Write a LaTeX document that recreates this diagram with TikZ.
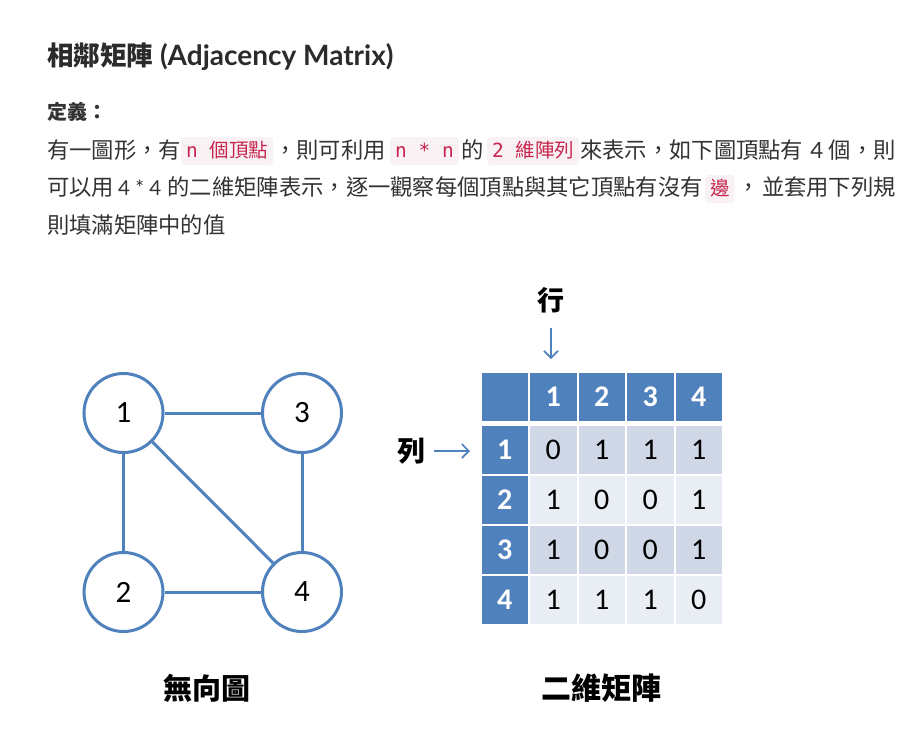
\documentclass[tikz,border=0pt]{standalone}
\usepackage{fontspec}
\setmainfont{Lato}
\newfontfamily\cjk{Noto Sans CJK TC}
\newfontfamily\calib{Carlito}
\newfontfamily\mono{DejaVu Sans Mono}
\usetikzlibrary{arrows.meta}

\definecolor{ink}{HTML}{333333}
\definecolor{heading}{HTML}{2B2B2B}
\definecolor{chipbg}{HTML}{F9F2F4}
\definecolor{chipfg}{HTML}{C7254E}
\definecolor{office}{HTML}{4F81BD}
\definecolor{rowA}{HTML}{D0D8E8}
\definecolor{rowB}{HTML}{E9EDF4}

\tikzset{
  txt/.style={inner sep=0pt, anchor=base west, text=ink,
    font=\cjk\fontsize{22.3}{27}\selectfont},
  txtr/.style={txt, anchor=base east},
  chip/.style={fill=chipbg, rounded corners=4pt, anchor=west,
    inner xsep=5pt, inner ysep=0pt, minimum height=28pt,
    text height=16pt, text depth=3pt, text=chipfg,
    font=\cjk\fontsize{19.5}{22}\selectfont},
  vertex/.style={circle, draw=office, line width=3pt, minimum size=79pt,
    inner sep=0pt, fill=white, font=\calib\fontsize{31}{34}\selectfont},
  edge/.style={draw=office, line width=3pt},
  cell/.style={minimum width=46.5pt, minimum height=48pt, inner sep=0pt,
    font=\calib\fontsize{30}{32}\selectfont},
  headcell/.style={cell, fill=office, text=white,
    font=\calib\bfseries\fontsize{30}{32}\selectfont},
  oddcell/.style={cell, fill=rowA, text=black},
  evencell/.style={cell, fill=rowB, text=black},
  pointer/.style={draw=office, line width=1.6pt,
    -{Straight Barb[length=7pt,width=14pt]}},
  caption/.style={inner sep=0pt, text=black,
    font=\cjk\bfseries\fontsize{29}{32}\selectfont}
}

\begin{document}
\begin{tikzpicture}[x=1pt,y=-1pt]
\useasboundingbox[fill=white] (0,0) rectangle (922,740);

% heading
\node[inner sep=0pt, anchor=base west, text=heading,
  font=\bfseries\fontsize{28}{32}\selectfont] (title) at (47,65)
  {{\cjk\fontsize{26.5}{30}\selectfont 相鄰矩陣} (Adjacency Matrix)};
\node[txt, font=\cjk\bfseries\fontsize{20}{24}\selectfont] (def) at (47,119) {定義：};

% paragraph, line 1
\node[txt] (l1a) at (47,158) {有一圖形，有};
\node[chip] (c1) at (181,151) {{\mono n }個頂點};
\node[txt] (l1b) at (274,158) {，則可利用};
\node[chip] (c2) at (390,151) {\mono n * n};
\node[txt] (l1c) at (461,158) {的};
\node[chip] (c3) at (487,151) {{\mono 2 }維陣列};
\node[txt] (l1d) at (580,158) {來表示，如下圖頂點有};
\node[txtr] (l1e) at (896,158) {{\rmfamily 4 }個，則};

% paragraph, line 2
\node[txt] (l2a) at (47,195.5) {可以用};
\node[txt, font=\fontsize{20.5}{25}\selectfont] (l2b) at (118,195.5) {4 * 4};
\node[txtr] (l2c) at (703,195.5) {的二維矩陣表示，逐一觀察每個頂點與其它頂點有沒有};
\node[chip] (c4) at (705,189) {邊};
\node[txt] (l2e) at (737,195.5) {，};
\node[txtr] (l2f) at (896,195.5) {並套用下列規};

% paragraph, line 3
\node[txt] (l3) at (47,233) {則填滿矩陣中的值};

% undirected graph
\node[vertex] (v1) at (123.5,413) {1};
\node[vertex] (v3) at (302,413) {3};
\node[vertex] (v2) at (123.5,592) {2};
\node[vertex] (v4) at (302,592) {4};
\draw[edge] (v1) -- (v3);
\draw[edge] (v1) -- (v2);
\draw[edge] (v1) -- (v4);
\draw[edge] (v3) -- (v4);
\draw[edge] (v2) -- (v4);
\node[caption] (gcap) at (207,688) {無向圖};

% adjacency matrix
\node[headcell] (h0) at (504.75,397) {};
\foreach \c in {1,...,4}
  \node[headcell] (h\c) at ({504.75+48.5*\c},397) {\c};
\foreach \r in {1,...,4}
  \node[headcell] (r\r) at (504.75,{399.5+50*\r}) {\r};
\foreach \v [count=\c] in {0,1,1,1}
  \node[oddcell] (m1\c) at ({504.75+48.5*\c},449.5) {\v};
\foreach \v [count=\c] in {1,0,0,1}
  \node[evencell] (m2\c) at ({504.75+48.5*\c},499.5) {\v};
\foreach \v [count=\c] in {1,0,0,1}
  \node[oddcell] (m3\c) at ({504.75+48.5*\c},549.5) {\v};
\foreach \v [count=\c] in {1,1,1,0}
  \node[evencell] (m4\c) at ({504.75+48.5*\c},599.5) {\v};
\node[caption, font=\cjk\bfseries\fontsize{30}{32}\selectfont] (mcap) at (601,688) {二維矩陣};

% row / column pointers
\node[caption, font=\cjk\bfseries\fontsize{27}{30}\selectfont] (colword) at (551,300) {行};
\coordinate (coltip) at (551,359);
\draw[pointer, shorten <=15pt] (colword) -- (coltip);
\node[caption, font=\cjk\bfseries\fontsize{28}{30}\selectfont] (rowword) at (411,451) {列};
\coordinate (rowtip) at (470,451);
\draw[pointer, shorten <=9pt] (rowword) -- (rowtip);
\end{tikzpicture}
\end{document}
